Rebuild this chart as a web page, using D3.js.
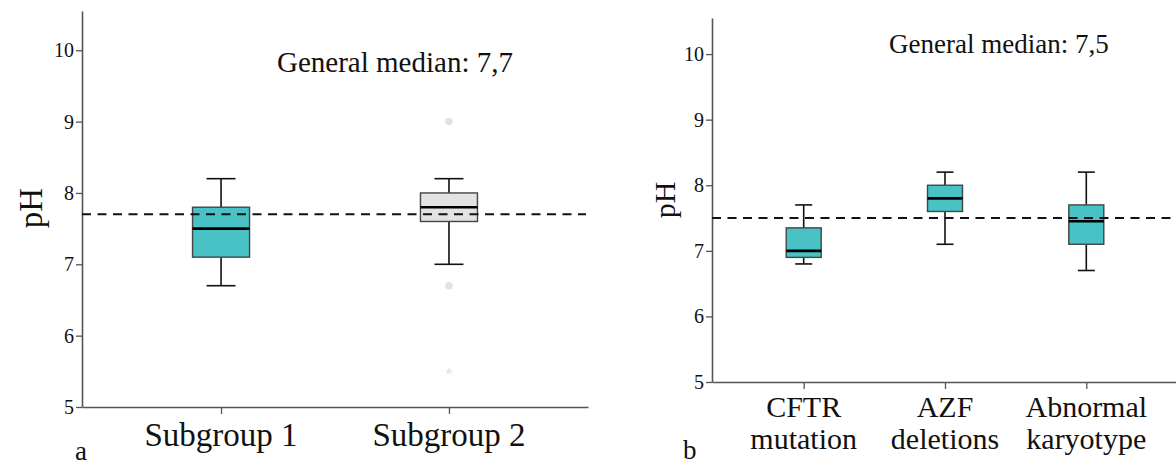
<!DOCTYPE html>
<html>
<head>
<meta charset="utf-8">
<script src="https://cdn.jsdelivr.net/npm/d3@7"></script>
<style>
  body { margin: 0; background: #fff; }
  svg { display: block; font-family: "Liberation Serif", "Times New Roman", serif; }
  svg text { font-family: "Liberation Serif", "Times New Roman", serif; }
</style>
</head>
<body>
<div id="chart"></div>
<script>
// panel a
const groupsA = ["Subgroup 1", "Subgroup 2"];
const minA = [6.7, 7.0];
const q1A = [7.1, 7.6];
const medA = [7.5, 7.8];
const q3A = [7.8, 8.0];
const maxA = [8.2, 8.2];
const outGroupA = ["Subgroup 2", "Subgroup 2", "Subgroup 2"];
const outValueA = [9.0, 6.7, 5.5];
const outKindA = ["circle", "circle", "star"];
const generalMedianA = 7.7;

// panel b
const groupsB = ["CFTR mutation", "AZF deletions", "Abnormal karyotype"];
const labelsB = [["CFTR", "mutation"], ["AZF", "deletions"], ["Abnormal", "karyotype"]];
const minB = [6.8, 7.1, 6.7];
const q1B = [6.9, 7.6, 7.1];
const medB = [7.0, 7.8, 7.45];
const q3B = [7.35, 8.0, 7.7];
const maxB = [7.7, 8.2, 8.2];
const generalMedianB = 7.5;

const yTicks = [5, 6, 7, 8, 9, 10];

const teal = "#48c2c5";
const lightGrey = "#e3e3e3";
const axisColor = "#555";

const svg = d3.select("#chart").append("svg")
    .attr("width", 1176)
    .attr("height", 466);

function drawPanel(opt) {
    const g = svg.append("g");

    const y = d3.scaleLinear().domain([5, 10.55]).range([opt.bottom, opt.top]);
    const x = d3.scalePoint().domain(opt.groups).range([opt.left, opt.right]).padding(opt.pad);

    // y axis
    const yAxis = g.append("g")
        .attr("transform", `translate(${opt.left},0)`)
        .call(d3.axisLeft(y).tickValues(yTicks).tickFormat(d3.format("d"))
            .tickSize(6).tickSizeOuter(0).tickPadding(2));
    yAxis.attr("font-family", null).attr("font-size", null);
    yAxis.select(".domain").attr("stroke", axisColor).attr("stroke-width", 1.6);
    yAxis.selectAll(".tick line").attr("stroke", axisColor).attr("stroke-width", 1.3);
    yAxis.selectAll(".tick text")
        .style("font-family", "'Liberation Serif', serif")
        .style("font-size", "20px")
        .attr("fill", "#111");

    // x axis
    const xAxis = g.append("g")
        .attr("transform", `translate(0,${opt.bottom})`)
        .call(d3.axisBottom(x).tickSize(7).tickSizeOuter(0).tickFormat(""));
    xAxis.select(".domain").attr("stroke", axisColor).attr("stroke-width", 1.6);
    xAxis.selectAll(".tick line").attr("stroke", axisColor).attr("stroke-width", 1.3);

    // category labels
    opt.groups.forEach((grp, i) => {
        const lines = opt.labels[i];
        const t = g.append("text")
            .attr("x", x(grp))
            .attr("y", opt.labelY)
            .attr("text-anchor", "middle")
            .attr("font-size", opt.labelSize)
            .attr("fill", "#111");
        lines.forEach((ln, j) => {
            t.append("tspan")
                .attr("x", x(grp))
                .attr("dy", j === 0 ? 0 : opt.labelSize * 1.05)
                .text(ln);
        });
    });

    const data = opt.groups.map((grp, i) => ({
        grp, min: opt.min[i], q1: opt.q1[i], med: opt.med[i], q3: opt.q3[i], max: opt.max[i]
    }));

    const box = g.selectAll(".box").data(data).join("g").attr("class", "box");

    // whiskers
    box.append("line")
        .attr("x1", d => x(d.grp)).attr("x2", d => x(d.grp))
        .attr("y1", d => y(d.max)).attr("y2", d => y(d.q3))
        .attr("stroke", "#111").attr("stroke-width", 1.6);
    box.append("line")
        .attr("x1", d => x(d.grp)).attr("x2", d => x(d.grp))
        .attr("y1", d => y(d.q1)).attr("y2", d => y(d.min))
        .attr("stroke", "#111").attr("stroke-width", 1.6);
    box.append("line")
        .attr("x1", d => x(d.grp) - opt.capW / 2).attr("x2", d => x(d.grp) + opt.capW / 2)
        .attr("y1", d => y(d.max)).attr("y2", d => y(d.max))
        .attr("stroke", "#111").attr("stroke-width", 1.6);
    box.append("line")
        .attr("x1", d => x(d.grp) - opt.capW / 2).attr("x2", d => x(d.grp) + opt.capW / 2)
        .attr("y1", d => y(d.min)).attr("y2", d => y(d.min))
        .attr("stroke", "#111").attr("stroke-width", 1.6);

    // box body
    box.append("rect")
        .attr("x", d => x(d.grp) - opt.boxW / 2)
        .attr("width", opt.boxW)
        .attr("y", d => y(d.q3))
        .attr("height", d => y(d.q1) - y(d.q3))
        .attr("fill", (d, i) => opt.fills[i])
        .attr("stroke", "#444")
        .attr("stroke-width", 1.4);

    // median
    box.append("line")
        .attr("x1", d => x(d.grp) - opt.boxW / 2).attr("x2", d => x(d.grp) + opt.boxW / 2)
        .attr("y1", d => y(d.med)).attr("y2", d => y(d.med))
        .attr("stroke", "#000").attr("stroke-width", 2.6);

    // general median dashed line, over the boxes
    g.append("line")
        .attr("x1", opt.left)
        .attr("x2", opt.dashEnd)
        .attr("y1", y(opt.median))
        .attr("y2", y(opt.median))
        .attr("stroke", "#111")
        .attr("stroke-width", 2)
        .attr("stroke-dasharray", "9,6.5");

    // outliers
    if (opt.outValue) {
        opt.outValue.forEach((v, i) => {
            const cx = x(opt.outGroup[i]);
            if (opt.outKind[i] === "circle") {
                g.append("circle")
                    .attr("cx", cx).attr("cy", y(v)).attr("r", 3.8)
                    .attr("fill", "#e2e2e2");
            } else {
                g.append("path")
                    .attr("d", d3.symbol().type(d3.symbolStar).size(22)())
                    .attr("transform", `translate(${cx},${y(v)})`)
                    .attr("fill", "#e6e6e6");
            }
        });
    }

    // y title
    g.append("text")
        .attr("transform", `translate(${opt.titleX},${opt.titleY}) rotate(-90)`)
        .attr("text-anchor", "middle")
        .attr("font-size", opt.titleSize)
        .attr("fill", "#111")
        .text("pH");

    // general median label
    g.append("text")
        .attr("x", opt.noteX)
        .attr("y", opt.noteY)
        .attr("font-size", opt.noteSize)
        .attr("fill", "#111")
        .text(opt.note);

    // panel letter
    g.append("text")
        .attr("x", opt.letterX)
        .attr("y", opt.letterY)
        .attr("font-size", 27)
        .attr("fill", "#111")
        .text(opt.letter);
}

drawPanel({
    groups: groupsA,
    labels: groupsA.map(d => [d]),
    min: minA, q1: q1A, med: medA, q3: q3A, max: maxA,
    outGroup: outGroupA, outValue: outValueA, outKind: outKindA,
    median: generalMedianA,
    fills: [teal, lightGrey],
    left: 82, right: 588, top: 11, bottom: 407, pad: 0.61,
    dashEnd: 586,
    boxW: 57, capW: 29,
    labelY: 446, labelSize: 33,
    titleX: 42, titleY: 208, titleSize: 33,
    note: "General median: 7,7", noteX: 277, noteY: 72, noteSize: 29,
    letter: "a", letterX: 75, letterY: 460
});

drawPanel({
    groups: groupsB,
    labels: labelsB,
    min: minB, q1: q1B, med: medB, q3: q3B, max: maxB,
    median: generalMedianB,
    fills: [teal, teal, teal],
    left: 712, right: 1178, top: 18, bottom: 382, pad: 0.649,
    dashEnd: 1176,
    boxW: 35, capW: 17,
    labelY: 417, labelSize: 30,
    titleX: 675, titleY: 200, titleSize: 30,
    note: "General median: 7,5", noteX: 889, noteY: 53, noteSize: 27,
    letter: "b", letterX: 683, letterY: 459
});
</script>
</body>
</html>
